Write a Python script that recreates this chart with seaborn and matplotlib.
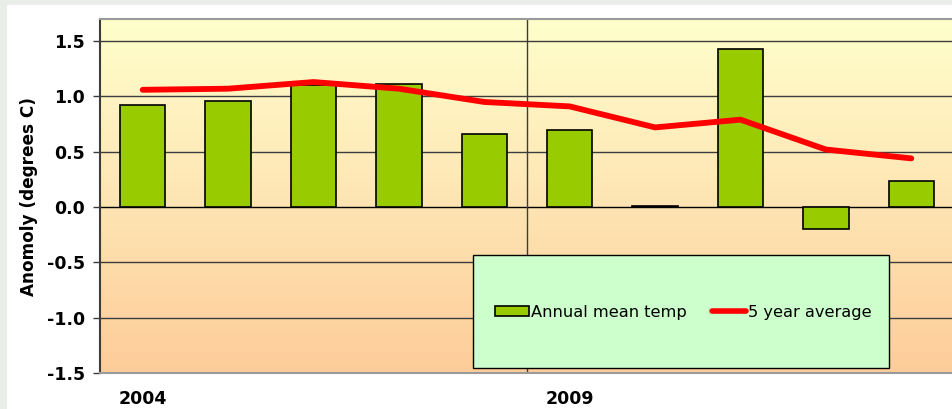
import numpy as np
import matplotlib
matplotlib.use("Agg")
import matplotlib.pyplot as plt
from matplotlib.patches import Rectangle, Patch
from matplotlib.lines import Line2D
from matplotlib.colors import LinearSegmentedColormap
import seaborn as sns

# Annual temperature anomaly data (degrees C)
years = ["2004", "2005", "2006", "2007", "2008", "2009", "2010", "2011", "2012", "2013"]
annual_mean = [0.92, 0.96, 1.10, 1.11, 0.66, 0.70, 0.01, 1.43, -0.20, 0.24]
five_year_avg = [1.06, 1.07, 1.13, 1.07, 0.95, 0.91, 0.72, 0.79, 0.52, 0.44]
shown_year_labels = ["2004", "2009"]
y_ticks = [-1.5, -1.0, -0.5, 0.0, 0.5, 1.0, 1.5]

sns.set_theme(style="white")
plt.rcParams["font.family"] = ["DejaVu Sans"]
plt.rcParams["text.color"] = "black"
plt.rcParams["axes.labelcolor"] = "black"
plt.rcParams["xtick.color"] = "black"
plt.rcParams["ytick.color"] = "black"

W, H = 953, 409
fig = plt.figure(figsize=(W / 100, H / 100), dpi=100)
fig.patch.set_facecolor("#e9eee8")
# white panel behind the chart
fig.patches.append(Rectangle((7 / W, 0), 1, 1 - 5 / H, transform=fig.transFigure,
                             facecolor="white", edgecolor="none", zorder=-10))

ax = fig.add_axes([100 / W, 1 - 373 / H, 854 / W, 354 / H])
ax.set_zorder(1)
ax.set_facecolor("none")

# Gradient plot-area background, pale yellow to peach
grad = LinearSegmentedColormap.from_list("bg", ["#ffffcc", "#fee6b4", "#fdcc99"])
ax.imshow(np.linspace(0, 1, 256).reshape(-1, 1), aspect="auto", cmap=grad,
          extent=[0, 1, 0, 1], transform=ax.transAxes, zorder=0)

pos = np.arange(len(years))

sns.barplot(x=pos, y=annual_mean, native_scale=True, color="#99cc00", width=0.53,
            edgecolor="black", linewidth=1.2, saturation=1, ax=ax, zorder=3)
sns.lineplot(x=pos, y=five_year_avg, color="#ff0000", linewidth=4.2,
             solid_capstyle="round", ax=ax, zorder=4)

ax.set_xlim(-0.5, 9.5)
ax.set_ylim(-1.5, 1.7)

# Horizontal gridlines and zero line
for yv in y_ticks:
    if yv == -1.5:
        continue
    ax.axhline(yv, color="black" if yv == 0 else "#3c3c3c", linewidth=1.0, zorder=2)
# Vertical separator between year groups
ax.axvline(4.5, color="#3c3c3c", linewidth=1.0, zorder=2)

ax.set_yticks(y_ticks)
ax.set_yticklabels([f"{v:.1f}" for v in y_ticks], fontsize=12.5, fontweight="bold")
ax.set_xticks([years.index(y) for y in shown_year_labels])
ax.set_xticklabels(shown_year_labels, fontsize=12.5, fontweight="bold")
ax.tick_params(axis="y", direction="out", length=5, width=1, color="#3c3c3c", pad=6, left=True)
ax.tick_params(axis="x", length=0, pad=12)
ax.set_ylabel("Anomoly (degrees C)", fontsize=12.2, fontweight="bold", labelpad=6)
ax.set_xlabel("")

for side in ["top", "bottom"]:
    ax.spines[side].set_color("#9a9a9a")
    ax.spines[side].set_linewidth(1.5)
ax.spines["left"].set_color("#3c3c3c")
ax.spines["left"].set_linewidth(1.5)
ax.spines["right"].set_visible(False)

# Legend panel
ax.add_patch(Rectangle((0.437, 0.014), 0.487, 0.319, transform=ax.transAxes,
                       facecolor="#ccffcc", edgecolor="black", linewidth=1, zorder=5))
handles = [Patch(facecolor="#99cc00", edgecolor="black", linewidth=1.2),
           Line2D([0], [0], color="#ff0000", linewidth=4, solid_capstyle="round")]
leg = ax.legend(handles, ["Annual mean temp", "5 year average"], ncol=2, frameon=False,
                loc="center", bbox_to_anchor=(0.683, 0.172), fontsize=11.7,
                handlelength=2.1, handleheight=0.6, handletextpad=0.15,
                columnspacing=1.5)
leg.set_zorder(6)

fig.savefig("out.png", dpi=100)
